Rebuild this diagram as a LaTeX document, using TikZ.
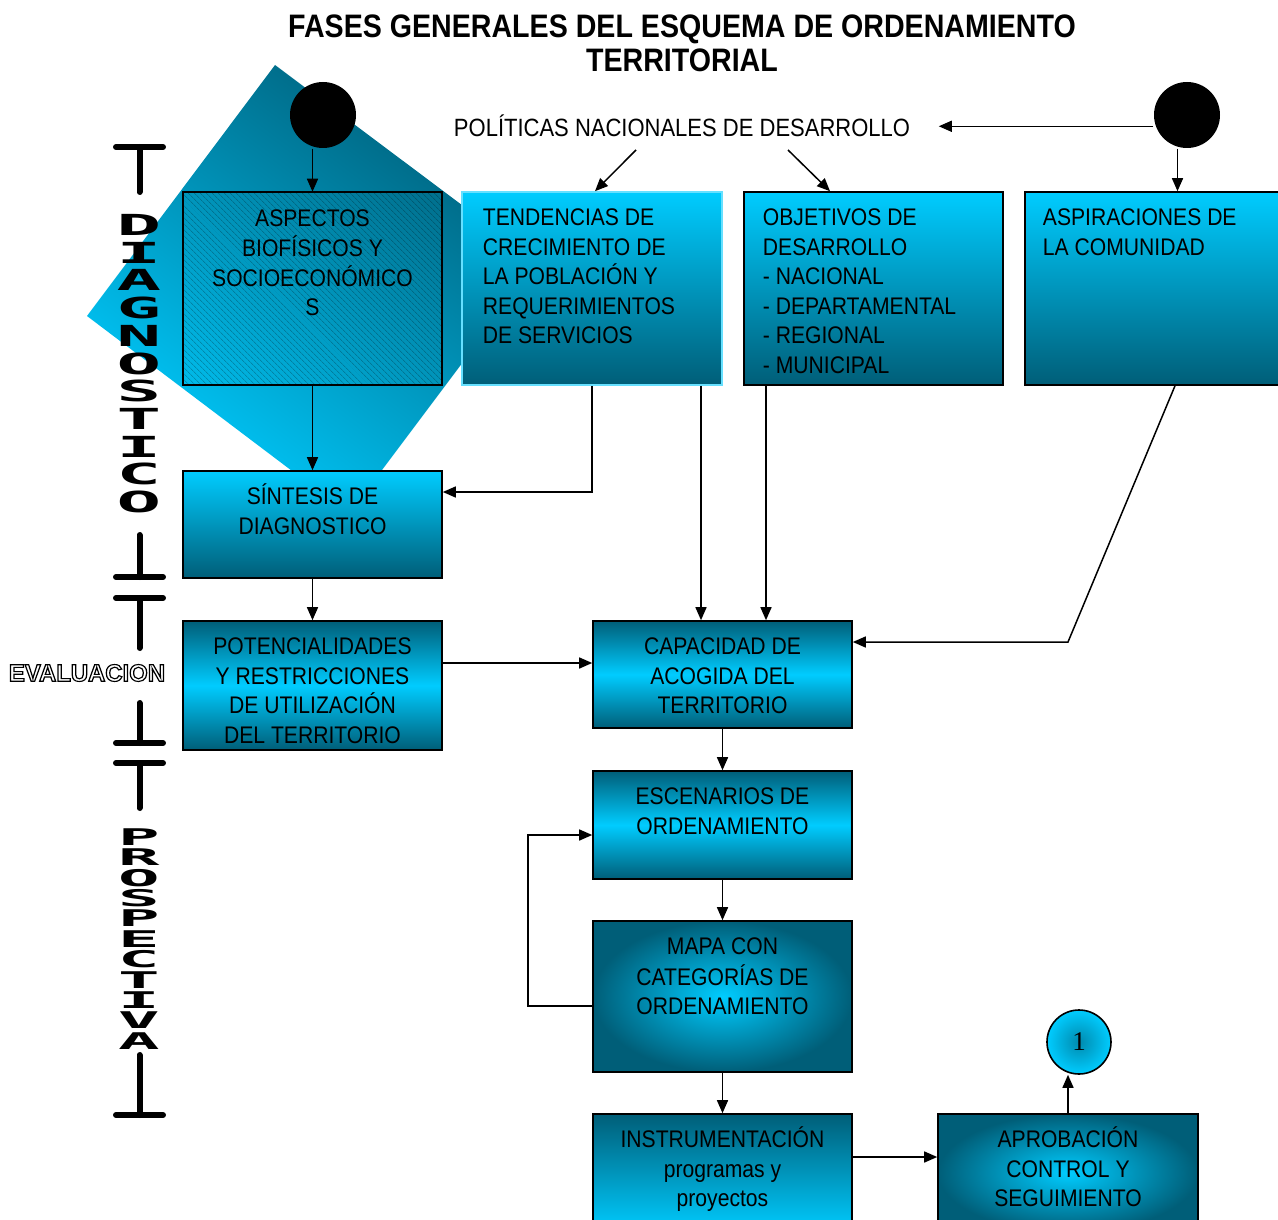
\documentclass[tikz,border=0pt]{standalone}
\usepackage{fontspec}
\usepackage{graphicx}
\usepackage{tikz}
\setmainfont{Liberation Sans}[FakeStretch=0.88]
\newfontfamily\stackfont{DejaVu Sans Mono}
\newfontfamily\numfont{Liberation Serif}
\usetikzlibrary{arrows.meta,patterns.meta,positioning}
\definecolor{cyanbox}{HTML}{00CCFF}
\definecolor{tealdark}{HTML}{005E78}
\newcommand{\outlined}[1]{\special{pdf:literal direct 1 Tr 1.1 w}#1\special{pdf:literal direct 0 Tr}}
\tikzset{
  box/.style={draw=black,line width=1.6pt,inner sep=0pt,minimum width=259pt},
  fade/.style={top color=cyanbox,bottom color=tealdark},
  band/.style={top color=tealdark,bottom color=tealdark,middle color=cyanbox},
  glow/.style={inner color=cyanbox,outer color=tealdark},
  txt/.style={font=\fontsize{24}{29.5}\selectfont,inner sep=0pt,align=center},
  txtl/.style={txt,align=left},
  dot/.style={circle,fill=black,minimum size=66pt,inner sep=0pt},
  letra/.style={font=\stackfont\bfseries\fontsize{#1}{#1}\selectfont,inner sep=0pt},
  bar/.style={line width=6pt,line cap=round}
}
\begin{document}
\begin{tikzpicture}[x=1pt,y=-1pt,line width=1.5pt,>={Triangle[length=13pt,width=11pt]}]
\useasboundingbox (0,0) rectangle (1278,1220);
\shade[top color=tealdark,bottom color=cyanbox,shading angle=-36.8]
  (275,65) -- (538,262) -- (349,514) -- (87,316) -- cycle;

\node[font=\bfseries\fontsize{32.5}{34}\selectfont,align=center,inner sep=0pt] (titulo) at (682,43)
  {FASES GENERALES DEL ESQUEMA DE ORDENAMIENTO\\TERRITORIAL};
\node[font=\fontsize{25}{30}\selectfont,inner sep=0pt,anchor=base] (pol) at (682,137)
  {POLÍTICAS NACIONALES DE DESARROLLO};
\node[dot] (cir1) at (323,115) {};
\node[dot] (cir2) at (1187,115) {};

\node[box,minimum height=193pt,pattern={Lines[angle=-45,distance=4pt,line width=0.5pt]},
  pattern color=black,fill opacity=0.35] (bio) at (312.5,288.5) {};
\node[box,fade,draw=cyanbox!60!white,minimum width=260pt,minimum height=193pt] (tend) at (592,288.5) {};
\node[box,fade,minimum height=193pt] (obj) at (873.5,288.5) {};
\node[box,fade,minimum width=305pt,minimum height=193pt] (asp) at (1177.5,288.5) {};
\node[box,fade,minimum height=107pt] (sin) at (312.5,524.5) {};
\node[box,band,minimum height=129pt] (pot) at (312.5,685.5) {};
\node[box,band,minimum height=107pt] (cap) at (722.5,674.5) {};
\node[box,band,minimum height=108pt] (esc) at (722.5,825) {};
\node[box,glow,minimum height=151pt] (mapa) at (722.5,996.5) {};
\node[box,top color=tealdark,bottom color=cyanbox,minimum height=118pt] (ins) at (722.5,1173) {};
\node[box,glow,minimum width=260pt,minimum height=118pt] (apr) at (1068,1173) {};
\node[circle,draw=black,line width=1.6pt,inner color=tealdark!60!cyanbox,outer color=cyanbox,
  minimum size=64pt,inner sep=0pt,font=\numfont\fontsize{27}{27}\selectfont] (uno) at (1079,1042) {1};

\node[txt,anchor=north] (bio-t) at ([yshift=-13pt]bio.north)
  {\strut ASPECTOS\\BIOFÍSICOS Y\\SOCIOECONÓMICO\\S};
\node[txtl,anchor=north west] (tend-t) at ([xshift=21pt,yshift=-13pt]tend.north west)
  {\strut TENDENCIAS DE\\CRECIMIENTO DE\\LA POBLACIÓN Y\\REQUERIMIENTOS\\DE SERVICIOS};
\node[txtl,anchor=north west] (obj-t) at ([xshift=19pt,yshift=-13pt]obj.north west)
  {\strut OBJETIVOS DE\\DESARROLLO\\- NACIONAL\\- DEPARTAMENTAL\\- REGIONAL\\- MUNICIPAL};
\node[txtl,anchor=north west] (asp-t) at ([xshift=18pt,yshift=-13pt]asp.north west)
  {\strut ASPIRACIONES DE\\LA COMUNIDAD};
\node[txt,anchor=north] (sin-t) at ([yshift=-13pt]sin.north) {\strut SÍNTESIS DE\\DIAGNOSTICO};
\node[txt,anchor=north] (pot-t) at ([yshift=-13pt]pot.north)
  {\strut POTENCIALIDADES\\Y RESTRICCIONES\\DE UTILIZACIÓN\\DEL TERRITORIO};
\node[txt,anchor=north] (cap-t) at ([yshift=-13pt]cap.north) {\strut CAPACIDAD DE\\ACOGIDA DEL\\TERRITORIO};
\node[txt,anchor=north] (esc-t) at ([yshift=-13pt]esc.north) {\strut ESCENARIOS DE\\ORDENAMIENTO};
\node[txt,anchor=north] (mapa-t) at ([yshift=-13pt]mapa.north) {\strut MAPA CON\\CATEGORÍAS DE\\ORDENAMIENTO};
\node[txt,anchor=north] (ins-t) at ([yshift=-13pt]ins.north) {\strut INSTRUMENTACIÓN\\programas y\\proyectos};
\node[txt,anchor=north] (apr-t) at ([yshift=-13pt]apr.north) {\strut APROBACIÓN\\CONTROL Y\\SEGUIMIENTO};

\coordinate (codo) at (1068,642);
\draw[->] (cir2.west |- pol.east) -- ([xshift=28pt]pol.east);
\draw[->] ([shift={(-46,12)}]pol.south) -- ([xshift=3pt]tend.north);
\draw[->] ([shift={(106,12)}]pol.south) -- ([xshift=-43.5pt]obj.north);
\draw[->] (cir1.south -| bio.north) -- (bio.north);
\draw[->] (cir2.south -| asp.north) -- (asp.north);
\draw[->] (bio.south) -- (sin.north);
\draw[->] (tend.south) |- ([yshift=32.5pt]sin.east);
\draw[->] ([xshift=109pt]tend.south) -- ([xshift=-21.5pt]cap.north);
\draw[->] ([xshift=-107.5pt]obj.south) -- ([xshift=43.5pt]cap.north);
\draw[->] ([xshift=-2.5pt]asp.south) -- (codo) -- ([yshift=32.5pt]cap.east);
\draw[->] (sin.south) -- (pot.north);
\draw[->] ([yshift=22.5pt]pot.east) -- ([yshift=11.5pt]cap.west);
\draw[->] (cap.south) -- (esc.north);
\draw[->] (esc.south) -- (mapa.north);
\draw[->] ([yshift=-9.5pt]mapa.west) -- ++(-64,0) |- ([yshift=-10pt]esc.west);
\draw[->] (mapa.south) -- (ins.north);
\draw[->] ([yshift=16pt]ins.east) -- ([yshift=16pt]apr.west);
\draw[->] (apr.north) -- (apr.north |- uno.south);

\foreach \b/\s in {147/192,577/535,598/648,743/703,763/808,1115/1055}
{
  \draw[bar] (116,\b) -- (163,\b);
  \draw[bar] (139.5,\b) -- (139.5,\s);
}
\foreach \l [count=\i from 0] in {D,I,A,G,N,O,S,T,I,C,O}
  \node[letra=29] (dg\i) at (139,225+27.7*\i) {\scalebox{2.55}[1]{\l}};
\foreach \l [count=\i from 0] in {P,R,O,S,P,E,C,T,I,V,A}
  \node[letra=23] (pr\i) at (139,837+20.4*\i) {\scalebox{3}[1]{\l}};
\node[font=\bfseries\fontsize{24}{24}\selectfont,inner sep=0pt] (eval) at (87,673)
  {\scalebox{1.13}[1]{\outlined{EVALUACION}}};
\end{tikzpicture}
\end{document}
